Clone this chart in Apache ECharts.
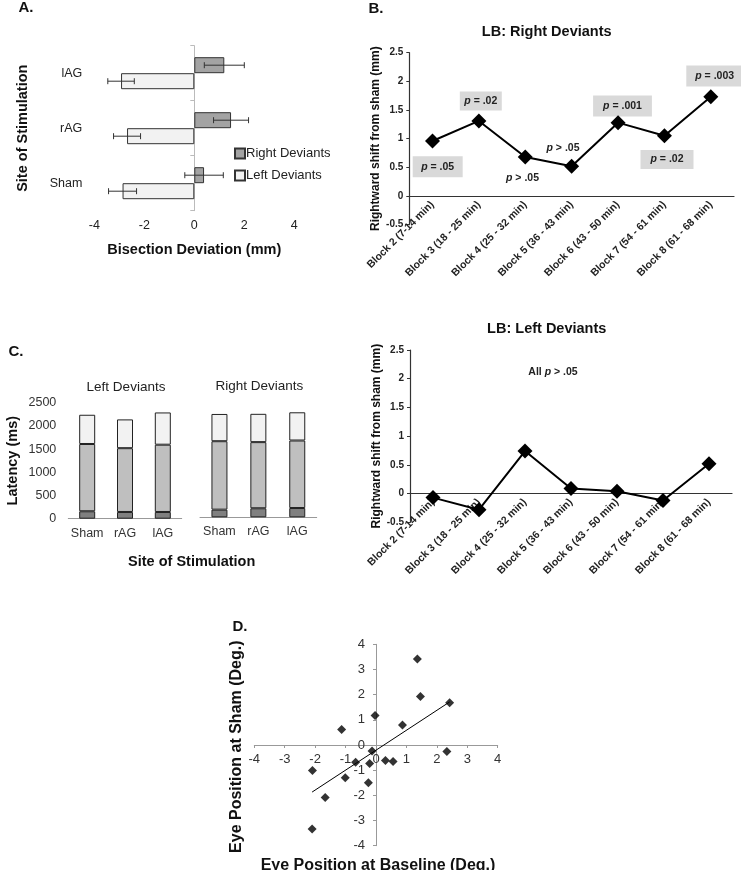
<!DOCTYPE html>
<html>
<head>
<meta charset="utf-8">
<script src="https://cdn.jsdelivr.net/npm/echarts@6/dist/echarts.min.js"></script>
<style>
html, body { margin: 0; padding: 0; background: #fff; }
#main { width: 741px; height: 870px; }
</style>
</head>
<body>
<div id="main"></div>
<script>
// A. line bisection deviation (mm)
var sites = ['Sham', 'rAG', 'lAG'];
var rightDev = [0.39, 1.47, 1.2];
var rightErr = [0.77, 0.7, 0.8];
var leftDev = [-2.87, -2.69, -2.93];
var leftErr = [0.56, 0.54, 0.53];

// B. landmark task, rightward shift from sham (mm)
var blocks = ['Block 2 (7-14 min)', 'Block 3 (18 - 25 min)', 'Block 4 (25 - 32 min)',
  'Block 5 (36 - 43 min)', 'Block 6 (43 - 50 min)', 'Block 7 (54 - 61 min)', 'Block 8 (61 - 68 min)'];
var lbRight = [0.96, 1.31, 0.68, 0.52, 1.28, 1.05, 1.73];
var lbLeft = [-0.07, -0.28, 0.74, 0.09, 0.04, -0.12, 0.52];

// C. latency (ms), stacked segments
var leftSeg1 = [160, 145, 145];
var leftSeg2 = [1450, 1375, 1450];
var leftSeg3 = [630, 620, 695];
var rightSeg1 = [165, 195, 200];
var rightSeg2 = [1475, 1425, 1455];
var rightSeg3 = [587, 610, 608];

// D. eye position (deg.)
var eyeBase = [1.36, 1.46, 2.42, -0.03, 0.87, -1.13, -0.13, 2.33, 0.31, 0.56, -0.67, -0.21, -2.09, -1.01, -0.25, -1.67, -2.1];
var eyeSham = [3.42, 1.93, 1.68, 1.17, 0.79, 0.62, -0.24, -0.26, -0.62, -0.66, -0.69, -0.73, -1.01, -1.3, -1.5, -2.09, -3.34];
var fitX = [-2.1, 2.42];
var fitY = [-1.87, 1.71];

var FONT = 'Liberation Sans, Arial, sans-serif';

function errRender(shift) {
  return function (params, api) {
    var c = api.value(0);
    var p1 = api.coord([api.value(1), c]);
    var p2 = api.coord([api.value(2), c]);
    var y = p1[1] + shift;
    var st = { stroke: '#333', lineWidth: 1 };
    return {
      type: 'group',
      children: [
        { type: 'line', shape: { x1: p1[0], y1: y, x2: p2[0], y2: y }, style: st },
        { type: 'line', shape: { x1: p1[0], y1: y - 3, x2: p1[0], y2: y + 3 }, style: st },
        { type: 'line', shape: { x1: p2[0], y1: y - 3, x2: p2[0], y2: y + 3 }, style: st }
      ]
    };
  };
}

var rightErrData = rightDev.map(function (v, i) { return [i, v - rightErr[i], v + rightErr[i]]; });
var leftErrData = leftDev.map(function (v, i) { return [i, v - leftErr[i], v + leftErr[i]]; });
var eyeData = eyeBase.map(function (v, i) { return [v, eyeSham[i]]; });

var richP = { i: { fontStyle: 'italic', fontWeight: 'bold', fontSize: 10.5, fontFamily: FONT, fill: '#222' } };

function txt(t, x, y, size, bold, extra) {
  var s = {
    text: t, x: 0, y: 0, align: 'center', verticalAlign: 'middle',
    fontSize: size, fontWeight: bold ? 'bold' : 'normal', fontFamily: FONT, fill: '#111'
  };
  for (var k in (extra || {})) s[k] = extra[k];
  return { type: 'text', x: x, y: y, style: s };
}

function pBox(t, x, y, pad) {
  var e = { rich: richP, fill: '#222' };
  if (pad) { e.backgroundColor = '#d9d9d9'; e.padding = pad; }
  return txt(t, x, y, 10.5, true, e);
}

// category axis drawn through y = 0 (grid height / 6 above the bottom)
function blockAxis(grid, h) {
  return {
    gridIndex: grid, type: 'category', data: blocks, offset: -h / 6,
    axisLine: { onZero: false, lineStyle: { color: '#333', width: 1.2 } },
    axisTick: { length: 4, lineStyle: { color: '#333' } },
    axisLabel: { rotate: 45, interval: 0, fontSize: 10.5, fontWeight: 'bold', color: '#222', margin: 7 }
  };
}

function shiftAxis(grid) {
  return {
    gridIndex: grid, type: 'value', min: -0.5, max: 2.5, interval: 0.5,
    splitLine: { show: false },
    axisLine: { show: true, onZero: false, lineStyle: { color: '#333', width: 1.2 } },
    axisTick: { show: true, length: 3, lineStyle: { color: '#333' } },
    axisLabel: { fontSize: 10, fontWeight: 'bold', color: '#222', margin: 6 },
    name: 'Rightward shift from sham (mm)', nameLocation: 'middle', nameGap: 27,
    nameTextStyle: { fontSize: 12, fontWeight: 'bold', color: '#111' }
  };
}

var chart = echarts.init(document.getElementById('main'));
chart.setOption({
  animation: false,
  textStyle: { fontFamily: FONT },
  grid: [
    { left: 94.3, top: 45.7, width: 200, height: 165 },
    { left: 409.3, top: 52.7, width: 324.7, height: 172 },
    { left: 68.3, top: 402.7, width: 113.4, height: 116 },
    { left: 200, top: 401.3, width: 116.7, height: 116 },
    { left: 410, top: 350, width: 322, height: 172.3 },
    { left: 254.3, top: 644.3, width: 243.4, height: 201.4 }
  ],
  legend: {
    data: ['Right Deviants', 'Left Deviants'],
    orient: 'vertical', left: 229, top: 142,
    itemWidth: 10, itemHeight: 10, itemGap: 9, icon: 'rect',
    textStyle: { fontSize: 13, color: '#222', padding: [0, 0, 0, -4] }
  },
  xAxis: [
    {
      gridIndex: 0, type: 'value', min: -4, max: 4, interval: 2,
      splitLine: { show: false },
      axisLine: { onZero: false, lineStyle: { color: '#a0a0a0' } },
      axisTick: { length: 3, lineStyle: { color: '#a0a0a0' } },
      axisLabel: { fontSize: 12.5, color: '#222', margin: 8 },
      name: 'Bisection Deviation (mm)', nameLocation: 'middle', nameGap: 32,
      nameTextStyle: { fontSize: 14.5, fontWeight: 'bold', color: '#111' }
    },
    blockAxis(1, 172),
    {
      gridIndex: 2, type: 'category', data: sites,
      axisLine: { lineStyle: { color: '#999' } },
      axisTick: { length: 4, lineStyle: { color: '#999' } },
      axisLabel: { fontSize: 12.5, color: '#333', margin: 8, interval: 0 }
    },
    {
      gridIndex: 3, type: 'category', data: sites,
      axisLine: { lineStyle: { color: '#999' } },
      axisTick: { length: 4, lineStyle: { color: '#999' } },
      axisLabel: { fontSize: 12.5, color: '#333', margin: 8, interval: 0 }
    },
    blockAxis(4, 172.3),
    {
      gridIndex: 5, type: 'value', min: -4, max: 4, interval: 1, offset: -201.4 / 2,
      splitLine: { show: false },
      axisLine: { onZero: false, lineStyle: { color: '#999' } },
      axisTick: { length: 3, lineStyle: { color: '#999' } },
      axisLabel: { fontSize: 13, color: '#333', margin: 8 }
    }
  ],
  yAxis: [
    {
      gridIndex: 0, type: 'category', data: sites,
      axisLine: { show: false, onZero: false }, axisTick: { show: false },
      axisLabel: { fontSize: 12.5, color: '#222', margin: 12 },
      name: 'Site of Stimulation', nameLocation: 'middle', nameGap: 64,
      nameTextStyle: { fontSize: 14.5, fontWeight: 'bold', color: '#111' }
    },
    {
      gridIndex: 0, type: 'category', data: sites, position: 'left', offset: -100,
      axisLine: { show: true, onZero: false, lineStyle: { color: '#bbb' } },
      axisTick: { show: true, length: 4, lineStyle: { color: '#bbb' } },
      axisLabel: { show: false }
    },
    shiftAxis(1),
    {
      gridIndex: 2, type: 'value', min: 0, max: 2500, interval: 500,
      splitLine: { show: false }, axisLine: { show: false }, axisTick: { show: false },
      axisLabel: { fontSize: 12.5, color: '#333', margin: 12, formatter: function (v) { return String(v); } },
      name: 'Latency (ms)', nameLocation: 'middle', nameGap: 48,
      nameTextStyle: { fontSize: 14.5, fontWeight: 'bold', color: '#111' }
    },
    {
      gridIndex: 3, type: 'value', min: 0, max: 2500, interval: 500,
      splitLine: { show: false }, axisLine: { show: false }, axisTick: { show: false },
      axisLabel: { show: false }
    },
    shiftAxis(4),
    {
      gridIndex: 5, type: 'value', min: -4, max: 4, interval: 1, offset: -243.4 / 2,
      splitLine: { show: false },
      axisLine: { onZero: false, lineStyle: { color: '#999' } },
      axisTick: { length: 3, lineStyle: { color: '#999' } },
      axisLabel: { fontSize: 13, color: '#333', margin: 11 }
    }
  ],
  series: [
    {
      type: 'bar', name: 'Right Deviants', xAxisIndex: 0, yAxisIndex: 0, data: rightDev,
      barWidth: 16, barGap: '0%',
      itemStyle: { color: '#a3a3a3', borderColor: '#333', borderWidth: 1 }
    },
    {
      type: 'bar', name: 'Left Deviants', xAxisIndex: 0, yAxisIndex: 0, data: leftDev,
      barWidth: 16, barGap: '0%',
      itemStyle: { color: '#f2f2f2', borderColor: '#333', borderWidth: 1 }
    },
    {
      type: 'custom', xAxisIndex: 0, yAxisIndex: 0, renderItem: errRender(-8),
      data: rightErrData, encode: { x: [1, 2], y: 0 }, z: 5
    },
    {
      type: 'custom', xAxisIndex: 0, yAxisIndex: 0, renderItem: errRender(8),
      data: leftErrData, encode: { x: [1, 2], y: 0 }, z: 5
    },
    {
      type: 'line', xAxisIndex: 1, yAxisIndex: 2, data: lbRight,
      symbol: 'diamond', symbolSize: 15,
      lineStyle: { color: '#000', width: 2 }, itemStyle: { color: '#000' }
    },
    { type: 'bar', xAxisIndex: 2, yAxisIndex: 3, stack: 'L', data: leftSeg1, barWidth: 16,
      itemStyle: { color: '#808080', borderColor: '#222', borderWidth: 1 } },
    { type: 'bar', xAxisIndex: 2, yAxisIndex: 3, stack: 'L', data: leftSeg2, barWidth: 16,
      itemStyle: { color: '#bfbfbf', borderColor: '#222', borderWidth: 1 } },
    { type: 'bar', xAxisIndex: 2, yAxisIndex: 3, stack: 'L', data: leftSeg3, barWidth: 16,
      itemStyle: { color: '#f2f2f2', borderColor: '#222', borderWidth: 1 } },
    { type: 'bar', xAxisIndex: 3, yAxisIndex: 4, stack: 'R', data: rightSeg1, barWidth: 16,
      itemStyle: { color: '#808080', borderColor: '#222', borderWidth: 1 } },
    { type: 'bar', xAxisIndex: 3, yAxisIndex: 4, stack: 'R', data: rightSeg2, barWidth: 16,
      itemStyle: { color: '#bfbfbf', borderColor: '#222', borderWidth: 1 } },
    { type: 'bar', xAxisIndex: 3, yAxisIndex: 4, stack: 'R', data: rightSeg3, barWidth: 16,
      itemStyle: { color: '#f2f2f2', borderColor: '#222', borderWidth: 1 } },
    {
      type: 'line', xAxisIndex: 4, yAxisIndex: 5, data: lbLeft,
      symbol: 'diamond', symbolSize: 15,
      lineStyle: { color: '#000', width: 2 }, itemStyle: { color: '#000' }
    },
    {
      type: 'scatter', xAxisIndex: 5, yAxisIndex: 6, data: eyeData,
      symbol: 'diamond', symbolSize: 9, itemStyle: { color: '#000' }
    },
    {
      type: 'line', xAxisIndex: 5, yAxisIndex: 6,
      data: [[fitX[0], fitY[0]], [fitX[1], fitY[1]]],
      symbol: 'none', lineStyle: { color: '#000', width: 1 }
    }
  ],
  graphic: [
    txt('A.', 26, 8, 15, true),
    txt('B.', 376, 9, 15, true),
    txt('C.', 16, 352, 15, true),
    txt('D.', 240, 627, 15, true),
    txt('LB: Right Deviants', 546.7, 31.7, 14.5, true),
    txt('LB: Left Deviants', 546.7, 329, 14.5, true),
    txt('Left Deviants', 126, 387.3, 13.5, false, { fill: '#222' }),
    txt('Right Deviants', 259.3, 386.7, 13.5, false, { fill: '#222' }),
    txt('Site of Stimulation', 191.7, 561.7, 14.5, true),
    pBox('{i|p} = .05', 437.7, 166.7, [5, 8.5]),
    pBox('{i|p} = .02', 480.8, 101, [4, 4.5]),
    pBox('{i|p} > .05', 522.5, 178),
    pBox('{i|p} > .05', 563, 148),
    pBox('{i|p} = .001', 622.5, 106, [5, 10]),
    pBox('{i|p} = .02', 667, 159.5, [4, 10]),
    pBox('{i|p} = .003', 714.7, 76, [5, 9]),
    pBox('All {i|p} > .05', 553, 372),
    (function () {
      var t = txt('Eye Position at Sham (Deg.)', 236.7, 746.7, 16, true);
      t.rotation = Math.PI / 2;
      return t;
    })(),
    txt('Eye Position at Baseline (Deg.)', 378, 866, 16, true)
  ]
});
</script>
</body>
</html>
